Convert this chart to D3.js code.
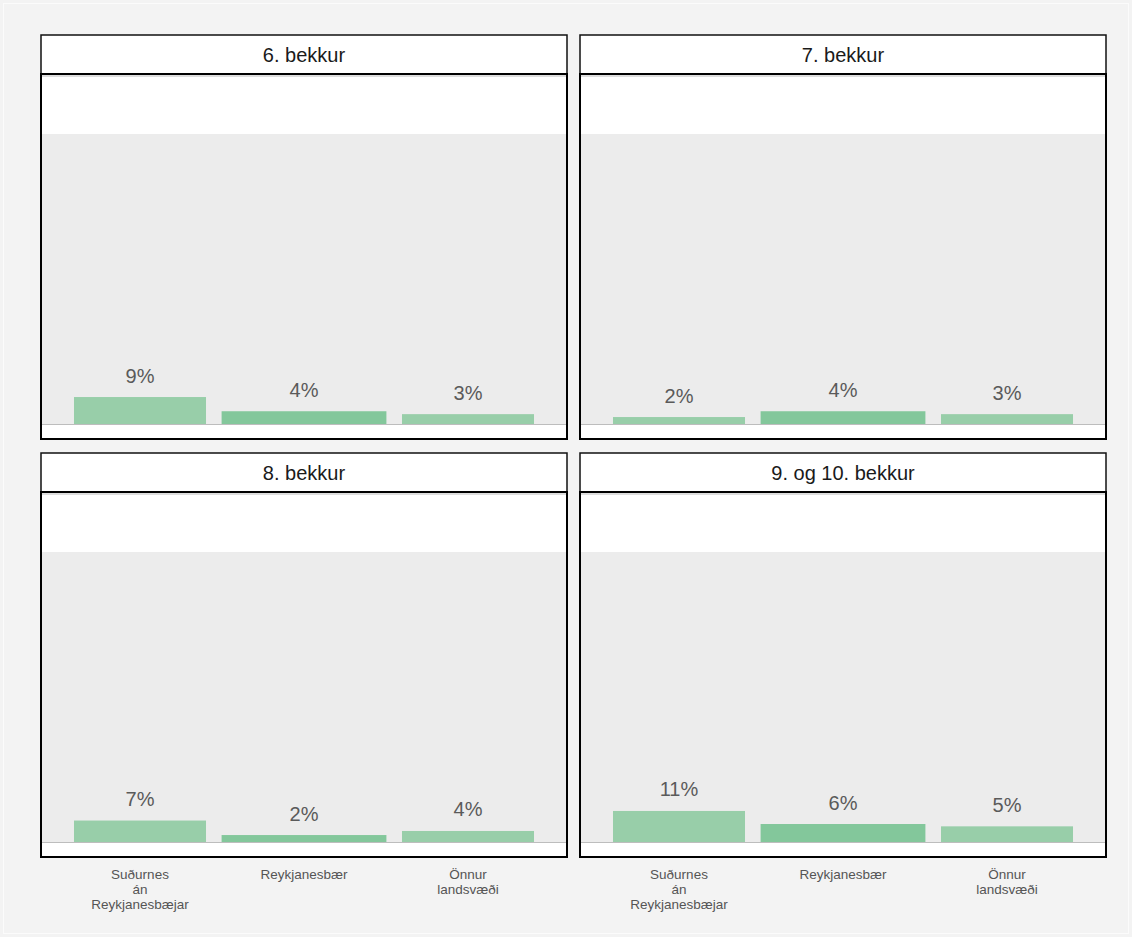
<!DOCTYPE html>
<html>
<head>
<meta charset="utf-8">
<script src="https://cdn.jsdelivr.net/npm/d3@7"></script>
<style>
  html, body { margin: 0; padding: 0; background: #f3f3f3; }
  svg { display: block; }
  text { font-family: "Liberation Sans", Arial, sans-serif; }
</style>
</head>
<body>
<svg id="chart" width="1132" height="937"></svg>
<script>
// ---- data ----
const categories = ["Suðurnes án Reykjanesbæjar", "Reykjanesbær", "Önnur landsvæði"];
const categoryLines = [["Suðurnes", "án", "Reykjanesbæjar"], ["Reykjanesbær"], ["Önnur", "landsvæði"]];
const panels = ["6. bekkur", "7. bekkur", "8. bekkur", "9. og 10. bekkur"];
const values6 = [0.093, 0.044, 0.034];
const values7 = [0.024, 0.044, 0.034];
const values8 = [0.074, 0.024, 0.038];
const values910 = [0.107, 0.062, 0.054];
const highlight = "Reykjanesbær";

const seriesByPanel = [values6, values7, values8, values910];

const svg = d3.select("#chart");
const W = 1132, H = 937;

svg.append("rect").attr("x", 3.5).attr("y", 3.5).attr("width", W - 7).attr("height", H - 7)
  .attr("fill", "#f3f3f3").attr("stroke", "#fbfbfb").attr("stroke-width", 1);

const panelW = 526;
const stripH = 39;
const bodyH = 365;
const colX = [41, 580];
const rowY = [35, 453];
const grayTop = 60;   // offset below strip where 100% sits
const baseOff = 350;  // offset below strip of the 0 baseline

const x = d3.scaleBand().domain(categories).range([17, 509]).paddingInner(0).paddingOuter(0);
const y = d3.scaleLinear().domain([0, 1]).range([baseOff, grayTop]);
const fmt = d3.format(".0%");

panels.forEach((name, i) => {
  const px = colX[i % 2], py = rowY[Math.floor(i / 2)];
  const g = svg.append("g").attr("transform", `translate(${px},${py})`);

  // strip
  g.append("rect").attr("x", 0).attr("y", 0).attr("width", panelW).attr("height", stripH)
    .attr("fill", "#ffffff").attr("stroke", "#111").attr("stroke-width", 1.5);
  g.append("text").attr("x", panelW / 2).attr("y", stripH / 2 + 7.5)
    .attr("text-anchor", "middle").attr("font-size", 20).attr("fill", "#1a1a1a").text(name);

  // body
  const b = g.append("g").attr("transform", `translate(0,${stripH})`);
  b.append("rect").attr("x", 0).attr("y", 0).attr("width", panelW).attr("height", bodyH)
    .attr("fill", "#ffffff");
  b.append("rect").attr("x", 0).attr("y", y(1)).attr("width", panelW).attr("height", y(0) - y(1))
    .attr("fill", "#ececec");
  b.append("line").attr("x1", 0).attr("x2", panelW).attr("y1", y(0) + 0.5).attr("y2", y(0) + 0.5)
    .attr("stroke", "#bdbdbd").attr("stroke-width", 1);

  const vals = seriesByPanel[i];
  const data = categories.map((c, k) => ({ c, v: vals[k] }));
  const bw = d => d.c === highlight ? x.step() * 1.005 : x.step() * 0.805;

  b.selectAll("rect.bar").data(data).join("rect").attr("class", "bar")
    .attr("x", d => x(d.c) + x.step() / 2 - bw(d) / 2)
    .attr("width", d => bw(d))
    .attr("y", d => y(d.v))
    .attr("height", d => y(0) - y(d.v))
    .attr("fill", d => d.c === highlight ? "#83c79b" : "#98cea9");

  b.selectAll("text.lab").data(data).join("text").attr("class", "lab")
    .attr("x", d => x(d.c) + x.step() / 2)
    .attr("y", d => y(d.v) - 14.5)
    .attr("text-anchor", "middle").attr("font-size", 20).attr("fill", "#5a5a5a")
    .text(d => fmt(d.v));

  // border
  b.append("rect").attr("x", 0).attr("y", 0).attr("width", panelW).attr("height", bodyH)
    .attr("fill", "none").attr("stroke", "#000").attr("stroke-width", 2);
  b.append("line").attr("x1", 1).attr("x2", panelW - 1).attr("y1", 2).attr("y2", 2)
    .attr("stroke", "#bbb").attr("stroke-width", 1);

  // x-axis labels for bottom row
  if (Math.floor(i / 2) === 1) {
    const ax = g.append("g").attr("transform", `translate(0,${stripH + bodyH})`);
    categories.forEach((c, k) => {
      const t = ax.append("text").attr("x", x(c) + x.step() / 2).attr("y", 22)
        .attr("text-anchor", "middle").attr("font-size", 13.5).attr("fill", "#555");
      categoryLines[k].forEach((ln, j) => {
        t.append("tspan").attr("x", x(c) + x.step() / 2).attr("dy", j === 0 ? 0 : 15).text(ln);
      });
    });
  }
});
</script>
</body>
</html>
